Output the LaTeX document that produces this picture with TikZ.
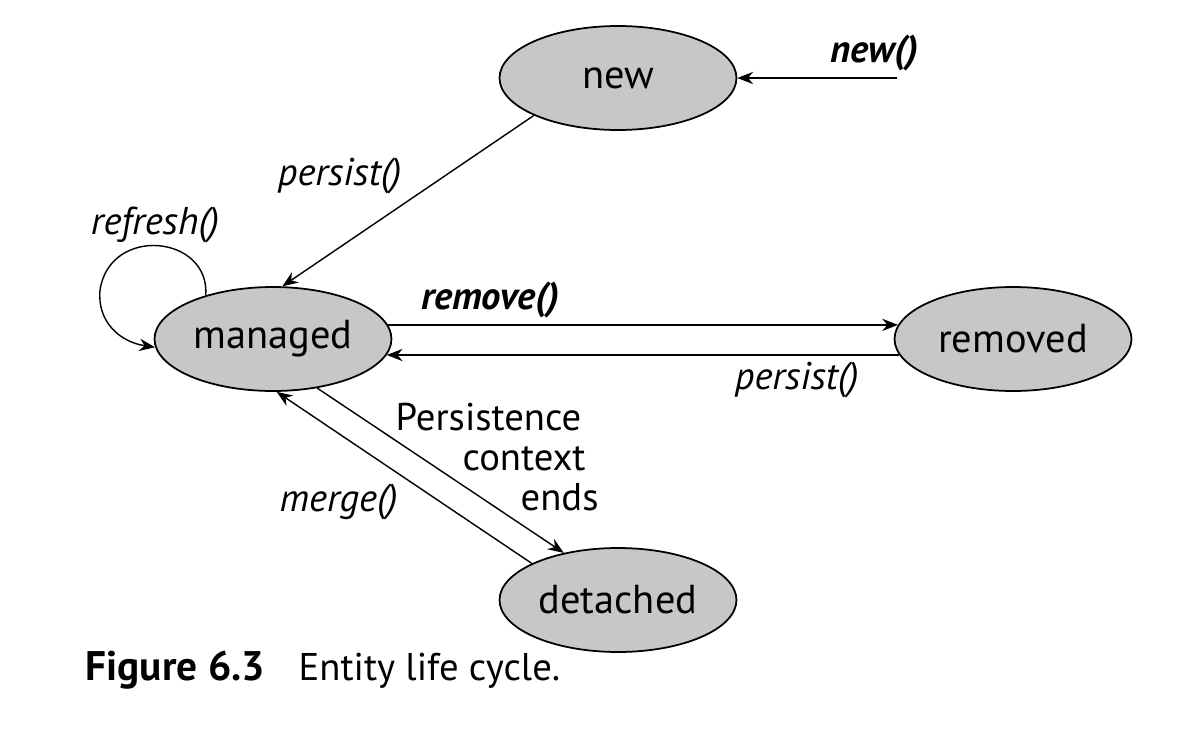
\documentclass[tikz,border=0pt]{standalone}
\usepackage{fontspec}
\setmainfont{PT Sans}
\usepackage{xcolor}
\colorlet{colorState}{black!22}
\colorlet{colorTransition}{black}
\usetikzlibrary{arrows.meta, automata, positioning, shapes.geometric}
\tikzset{
  lifestate/.style={state, ellipse, draw=black, line width=1pt, fill=colorState,
    minimum width=4.74cm, minimum height=2.08cm, inner sep=0pt,
    font=\fontsize{23}{27}\selectfont},
  call/.style={font=\fontsize{22}{26}\selectfont\itshape},
  boldcall/.style={font=\fontsize{22}{26}\selectfont\bfseries\itshape},
}

\begin{document}
\begin{tikzpicture}[x=0.02cm, y=-0.02cm, >={Stealth[length=9pt, width=7pt]}, thick]
\useasboundingbox (0,0) rectangle (1181,751);
\node[lifestate] (new) at (618,78) {new};
\node[lifestate] (managed) at (273,339) {managed};
\node[lifestate] (removed) at (1013,339) {removed};
\node[lifestate] (detached) at (618,600) {detached};
\coordinate (start) at (897,78);
\draw [colorTransition] (start) edge [->] node [pos=0.14, above, boldcall]{new()} (new.east);
\draw [colorTransition] (new.204) edge [->] node [pos=0.5, above left, call]{persist()} (managed.80);
\draw [->, colorTransition] (managed.147) .. controls (210,235) and (110,225) .. (100,290)
  .. controls (97,322) and (120,342) .. (managed.184);
\node[call] (refreshlabel) at (155,225) {refresh()};
\draw [colorTransition] (managed.7) edge [->] node [pos=0.2, above, boldcall]{remove()} (removed.173);
\draw [colorTransition] (removed.188) edge [->] node [pos=0.2, below, call]{persist()} (managed.352);
\draw [colorTransition] (detached.157) edge [->] node [pos=0.5, below left, call]{merge()} (managed.274);
\draw [colorTransition] (managed.312) edge [->] (detached.139);
\node[align=left, anchor=west, inner sep=0pt, font=\fontsize{22}{23}\selectfont] (endslabel) at (395,457)
  {Persistence\\\hspace*{1.34cm}context\\\hspace*{2.5cm}ends};
% caption
\node[anchor=base west, font=\fontsize{23.5}{27}\selectfont\bfseries, inner sep=0pt] (fig) at (85,680) {Figure 6.3};
\node[anchor=base west, font=\fontsize{22}{27}\selectfont, inner sep=0pt] (caption) at (298,680) {Entity life cycle.};
\end{tikzpicture}
\end{document}
